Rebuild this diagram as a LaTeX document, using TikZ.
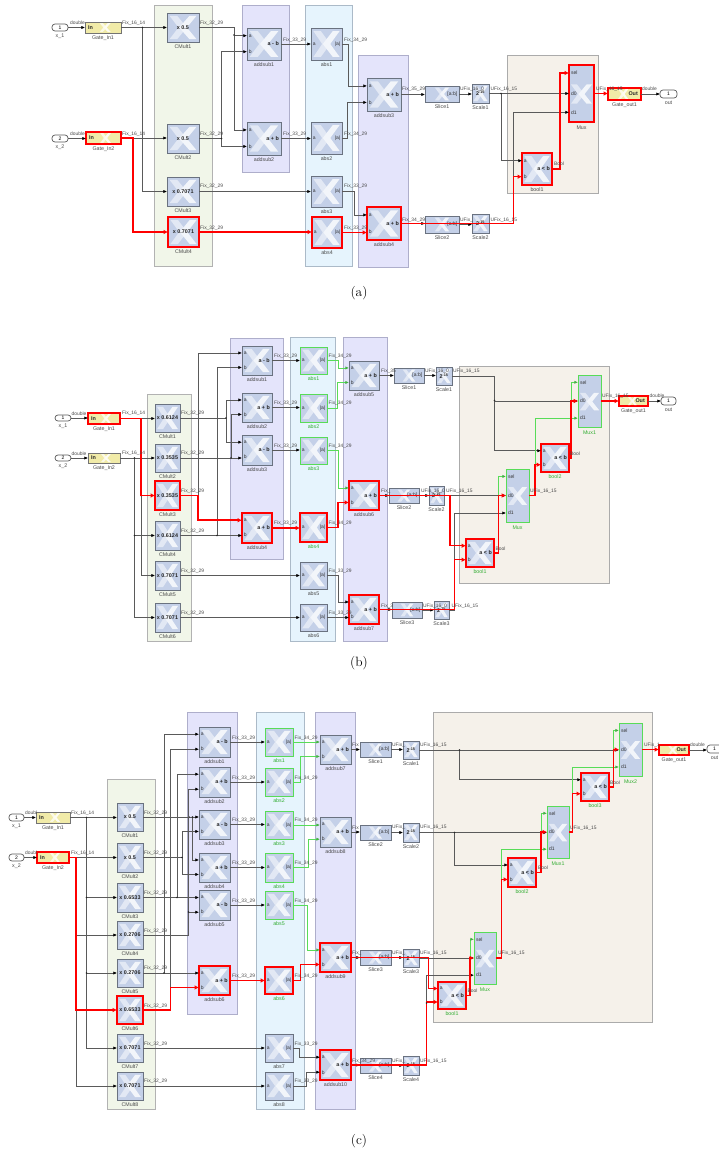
\documentclass[tikz,border=0pt]{standalone}
\usepackage{fontspec}
\usetikzlibrary{arrows.meta}
\newfontfamily\lbf{Liberation Sans}
\definecolor{wg}{HTML}{5A5A5A}
\definecolor{wgreen}{HTML}{58DC58}
\definecolor{bfill}{HTML}{C4D0E8}
\definecolor{bline}{HTML}{6A7280}
\definecolor{lgA}{HTML}{E2E8F4}
\definecolor{lgB}{HTML}{F2F5FA}
\definecolor{yel}{HTML}{F1EBA8}
\definecolor{txt}{HTML}{4A4A4A}
\definecolor{pgf}{HTML}{F1F6E9}
\tikzset{
 panel/.style={line width=1pt,inner sep=0,outer sep=0},
 pgreen/.style={panel,fill=pgf,draw=black!30},
 ppurple/.style={panel,fill={rgb,255:red,228;green,228;blue,251},draw={rgb,255:red,174;green,174;blue,203}},
 pblue/.style={panel,fill={rgb,255:red,230;green,244;blue,253},draw={rgb,255:red,171;green,186;blue,200}},
 pbrown/.style={panel,fill={rgb,255:red,245;green,241;blue,234},draw=black!33},
 nb/.style={draw=bline,fill=bfill,line width=.9pt,inner sep=0,outer sep=0},
 rb/.style={draw=red,fill=bfill,line width=1.6pt,inner sep=0,outer sep=0},
 gb/.style={draw=wgreen,fill=bfill,line width=.9pt,inner sep=0,outer sep=0},
 ny/.style={draw=black!55,fill=yel,line width=.8pt,inner sep=0,outer sep=0},
 ry/.style={draw=red,fill=yel,line width=1.6pt,inner sep=0,outer sep=0},
 lab/.style={font=\lbf\fontsize{5.3}{5.3}\selectfont,text=txt,inner sep=0},
 labg/.style={font=\lbf\fontsize{5.3}{5.3}\selectfont,text=green!60!black!80,inner sep=0},
 op/.style={font=\lbf\bfseries\fontsize{5.4}{5.4}\selectfont,text=black!85,inner sep=0},
 pl/.style={font=\lbf\fontsize{5}{5}\selectfont,text=black!80,inner sep=0,anchor=west},
 wl/.style={font=\lbf\fontsize{4.9}{4.9}\selectfont,text=txt,inner sep=0,anchor=west},
 ptbox/.style={draw=black!65,fill=white,rounded corners=3pt,line width=.7pt,inner sep=0,outer sep=0,font=\lbf\fontsize{5}{5}\selectfont},
 jd/.style={circle,fill=black!85,minimum size=1.9pt,inner sep=0},
 ww/.style={draw=wg,line width=.6pt,-{Latex[length=3.6pt,width=3.2pt,color=black]}},
 wgn/.style={draw=wgreen,line width=.7pt,-{Latex[length=3.6pt,width=3.2pt,color=wgreen!80!black]}},
 wr/.style={draw=red,line width=1.5pt,-{Latex[length=4.4pt,width=4.6pt,color=red]}},
 captxt/.style={font=\fontsize{13.5}{13.5}\selectfont,inner sep=0}
}
\newcounter{auton}
\newcommand\Logo[6]{\begin{scope}[shift={(#1,#2)},x=#3pt,y=-#4pt]
 \fill[#5] (.08,.1)--(.32,.1)--(.62,.5)--(.32,.9)--(.08,.9)--(.36,.5)--cycle;
 \fill[#6] (.92,.1)--(.7,.1)--(.38,.5)--(.7,.9)--(.92,.9)--(.62,.5)--cycle;
\end{scope}}
\newcommand\Base[6]{%
 \pgfmathsetmacro\bw{#4-#2}\pgfmathsetmacro\bh{#5-#3}%
 \pgfmathsetmacro\mx{(#2+#4)/2}\pgfmathsetmacro\my{(#3+#5)/2}%
 \node[#6,minimum width=\bw pt,minimum height=\bh pt] (#1) at (\mx,\my) {};
 \coordinate (#1i) at (#2,\my); \coordinate (#1o) at (#4,\my);
 \coordinate (#1a) at (#2,{#3+.24*\bh}); \coordinate (#1b) at (#2,{#3+.74*\bh});
 \coordinate (#1s) at (#2,{#3+.14*\bh}); \coordinate (#1p) at (#2,\my); \coordinate (#1q) at (#2,{#3+.83*\bh});
}
% id x1 y1 x2 y2 box labstyle text label
\newcommand\Cm[9]{\Base{#1}{#2}{#3}{#4}{#5}{#6}\Logo{#2}{#3}{\bw}{\bh}{lgA}{lgB}
 \node[op] (#1T) at (\mx,\my) {#8}; \node[#7] (#1L) at (\mx,{#5+5}) {#9};}
\newcommand\As[9]{\Base{#1}{#2}{#3}{#4}{#5}{#6}\Logo{#2}{#3}{\bw}{\bh}{lgA}{lgB}
 \node[op,anchor=east] (#1T) at ([xshift=-2pt]#1o) {#8}; \node[#7] (#1L) at (\mx,{#5+5}) {#9};
 \node[pl] (#1A) at ([xshift=1.6pt]#1a) {a}; \node[pl] (#1B) at ([xshift=1.6pt]#1b) {b};}
\newcommand\Ab[9]{\Base{#1}{#2}{#3}{#4}{#5}{#6}\Logo{#2}{#3}{\bw}{\bh}{lgA}{lgB}
 \node[pl,anchor=east] (#1T) at ([xshift=-1.6pt]#1o) {|a|}; \node[#7] (#1L) at (\mx,{#5+5}) {#9};
 \node[pl] (#1A) at ([xshift=1.6pt]#1i) {a};}
\newcommand\Sl[9]{\Base{#1}{#2}{#3}{#4}{#5}{#6}\pgfmathsetmacro\lx{#2+.25*\bw}\pgfmathsetmacro\lw{.5*\bw}\Logo{\lx}{#3}{\lw}{\bh}{lgA}{lgB}
 \node[pl,anchor=east] (#1T) at ([xshift=-1.6pt]#1o) {[a:b]}; \node[#7] (#1L) at (\mx,{#5+5}) {#9};}
\newcommand\Sc[9]{\Base{#1}{#2}{#3}{#4}{#5}{#6}\Logo{#2}{#3}{\bw}{\bh}{lgA}{lgB}
 \node[op] (#1T) at (\mx,\my) {2\textsuperscript{-15}}; \node[#7] (#1L) at (\mx,{#5+5}) {#9};}
\newcommand\Mx[9]{\Base{#1}{#2}{#3}{#4}{#5}{#6}\pgfmathsetmacro\ly{#3+.3*\bh}\pgfmathsetmacro\lh{.42*\bh}\Logo{#2}{\ly}{\bw}{\lh}{lgA}{lgB}
 \node[#7] (#1L) at (\mx,{#5+5.5}) {#9};
 \node[pl] (#1A) at ([xshift=1.8pt]#1s) {sel}; \node[pl] (#1B) at ([xshift=1.8pt]#1p) {d0}; \node[pl] (#1C) at ([xshift=1.8pt]#1q) {d1};}
\newcommand\Gi[9]{\Base{#1}{#2}{#3}{#4}{#5}{#6}\pgfmathsetmacro\lx{#2+.38*\bw}\pgfmathsetmacro\lw{.36*\bw}\Logo{\lx}{#3}{\lw}{\bh}{white!70!yel}{white!85!yel}
 \node[op,anchor=west] (#1T) at ([xshift=3pt]#1i) {#8}; \node[#7] (#1L) at (\mx,{#5+5}) {#9};}
\newcommand\Go[9]{\Base{#1}{#2}{#3}{#4}{#5}{#6}\pgfmathsetmacro\lx{#2+.28*\bw}\pgfmathsetmacro\lw{.36*\bw}\Logo{\lx}{#3}{\lw}{\bh}{white!70!yel}{white!85!yel}
 \node[op,anchor=east] (#1T) at ([xshift=-3pt]#1o) {#8}; \node[#7] (#1L) at (\mx,{#5+5}) {#9};}
% id x1 y1 x2 y2 number label
\newcommand\Pt[7]{%
 \pgfmathsetmacro\bw{#4-#2}\pgfmathsetmacro\bh{#5-#3}\pgfmathsetmacro\mx{(#2+#4)/2}\pgfmathsetmacro\my{(#3+#5)/2}%
 \node[ptbox,minimum width=\bw pt,minimum height=\bh pt] (#1) at (\mx,\my) {#6};
 \coordinate (#1i) at (#2,\my); \coordinate (#1o) at (#4,\my);
 \node[lab] (#1L) at (\mx,{#5+5}) {#7};}
\newcommand\Pn[6]{\pgfmathsetmacro\bw{#4-#2}\pgfmathsetmacro\bh{#5-#3}\pgfmathsetmacro\mx{(#2+#4)/2}\pgfmathsetmacro\my{(#3+#5)/2}%
 \node[#6,minimum width=\bw pt,minimum height=\bh pt] (#1) at (\mx,\my) {};}
\newcommand\hh[3][ww]{\draw[#1] (#2) -- (#2 -| #3);}
\newcommand\hvh[4][ww]{\coordinate (tmpx) at (#3,0); \draw[#1] (#2) -- (#2 -| tmpx) -- (tmpx |- #4) -- (#4);}
\newcommand\Jn[2]{\stepcounter{auton}\node[jd] (j\theauton) at (#1,#2) {};}
\newcommand\Wl[3]{\stepcounter{auton}\node[wl] (w\theauton) at (#1,#2) {#3};}
\begin{document}
\begin{tikzpicture}[x=1pt,y=-1pt]
\useasboundingbox (0,0) rectangle (719,1154);
%%%%%%%%%%%%% (a)
\Pn{aPG}{154}{5}{212}{266}{pgreen}
\Pn{aPP1}{242}{5}{289}{172}{ppurple}
\Pn{aPB}{305}{5}{352}{266}{pblue}
\Pn{aPP2}{358}{55}{408}{267}{ppurple}
\Pn{aPR}{507}{55}{598}{193}{pbrown}
\Pt{aP1}{52}{24}{68}{31}{1}{x\_1}
\Pt{aP2}{52}{135}{68}{142}{2}{x\_2}
\Gi{aGI1}{85}{22}{121}{33}{ny}{lab}{In}{Gate\_In1}
\Gi{aGI2}{86}{132}{121}{144}{ry}{lab}{In}{Gate\_In2}
\Cm{aCM1}{167}{13}{199}{42}{nb}{lab}{x 0.5}{CMult1}
\Cm{aCM2}{167}{124}{199}{153}{nb}{lab}{x 0.5}{CMult2}
\Cm{aCM3}{167}{177}{199}{206}{nb}{lab}{x 0.7071}{CMult3}
\Cm{aCM4}{168}{217}{199}{247}{rb}{lab}{x 0.7071}{CMult4}
\As{aAS1}{247}{28}{281}{60}{nb}{lab}{a - b}{addsub1}
\As{aAS2}{247}{122}{281}{155}{nb}{lab}{a + b}{addsub2}
\Ab{aAB1}{311}{28}{342}{60}{nb}{lab}{}{abs1}
\Ab{aAB2}{311}{122}{342}{154}{nb}{lab}{}{abs2}
\Ab{aAB3}{311}{176}{342}{207}{nb}{lab}{}{abs3}
\Ab{aAB4}{312}{217}{342}{248}{rb}{lab}{}{abs4}
\As{aAS3}{367}{78}{401}{111}{nb}{lab}{a + b}{addsub3}
\As{aAS4}{367}{207}{401}{240}{rb}{lab}{a + b}{addsub4}
\Sl{aSL1}{425}{86}{459}{102}{nb}{lab}{}{Slice1}
\Sc{aSC1}{472}{84}{489}{103}{nb}{lab}{}{Scale1}
\Sl{aSL2}{425}{216}{459}{233}{nb}{lab}{}{Slice2}
\Sc{aSC2}{472}{214}{489}{233}{nb}{lab}{}{Scale2}
\Mx{aMX}{569}{65}{594}{122}{rb}{lab}{}{Mux}
\As{aBL}{522}{153}{552}{185}{rb}{lab}{a < b}{bool1}
\Go{aGO}{608}{88}{641}{100}{ry}{lab}{Out}{Gate\_out1}
\Pt{aPO}{660}{90}{677}{98}{1}{out}
% black
\hh{aP1o}{aGI1i}\hh{aP2o}{aGI2i}
\hh{aGI1o}{aCM1i}\hvh{aGI1o}{142.5}{aCM3i}\Jn{142.5}{27.5}
\hh{aGI2o}{aCM2i}
\hvh{aCM1o}{234}{aAS1a}\hvh{aCM1o}{234}{aAS2a}\Jn{234}{35}
\hvh{aCM2o}{221.5}{aAS1b}\hvh{aCM2o}{221.5}{aAS2b}\Jn{221.5}{138.5}
\hh{aAS1o}{aAB1i}\hh{aAS2o}{aAB2i}\hh{aCM3o}{aAB3i}
\hvh{aAB1o}{348}{aAS3a}\hvh{aAB2o}{347}{aAS3b}\hvh{aAB3o}{354}{aAS4a}
\hh{aAS3o}{aSL1i}\hh{aSL1o}{aSC1i}\hh{aSC1o}{aMXp}\hvh{aSC1o}{501}{aBLa}\Jn{501}{93.5}
\hh{aAS4o}{aSL2i}\hh{aSL2o}{aSC2i}\hvh{aSC2o}{513.5}{aMXq}
\hh{aGOo}{aPOi}
% red
\hvh[wr]{aGI2o}{133}{aCM4i}\hh[wr]{aCM4o}{aAB4i}\hh[wr]{aAB4o}{aAS4b}
\hvh[wr]{aAS4o}{513.5}{aBLb}\hvh[wr]{aBLo}{560}{aMXs}\hh[wr]{aMXo}{aGOi}
% labels
\Wl{70}{23}{double}\Wl{70}{134}{double}\Wl{122}{23}{Fix\_16\_14}\Wl{122}{134}{Fix\_16\_14}
\Wl{200}{23}{Fix\_32\_29}\Wl{200}{134}{Fix\_32\_29}\Wl{200}{186}{Fix\_32\_29}\Wl{200}{228}{Fix\_32\_29}
\Wl{283}{40}{Fix\_33\_29}\Wl{283}{134}{Fix\_33\_29}
\Wl{344}{40}{Fix\_34\_29}\Wl{344}{134}{Fix\_34\_29}\Wl{344}{186}{Fix\_33\_29}\Wl{344}{228}{Fix\_33\_29}
\Wl{402}{89}{Fix\_35\_29}\Wl{460}{89}{UFix\_16\_0}\Wl{490.5}{89.5}{UFix\_16\_15}
\Wl{402}{220}{Fix\_34\_29}\Wl{460}{220}{UFix\_}\Wl{490.5}{220}{UFix\_16\_15}
\Wl{554}{164}{Bool}\Wl{596}{89}{UFix\_16\_15}\Wl{642}{89}{double}
\node[captxt] (capA) at (359,293) {(a)};
%%%%%%%%%%%%% (b)
\Pn{bPG}{147}{394}{191}{641}{pgreen}
\Pn{bPP1}{230}{338}{283}{559}{ppurple}
\Pn{bPB}{290}{337}{335}{641}{pblue}
\Pn{bPP2}{343}{337}{387}{641}{ppurple}
\Pn{bPR}{459}{366}{609}{583}{pbrown}
\Pt{bP1}{55}{415}{71}{421}{1}{x\_1}
\Pt{bP2}{55}{455}{71}{461}{2}{x\_2}
\Gi{bGI1}{88}{413}{120}{424}{ry}{lab}{In}{Gate\_In1}
\Gi{bGI2}{88}{453}{120}{463}{ny}{lab}{In}{Gate\_In2}
\Cm{bCM1}{155}{404}{180}{432}{nb}{lab}{x 0.6124}{CMult1}
\Cm{bCM2}{155}{444}{180}{472}{nb}{lab}{x 0.3535}{CMult2}
\Cm{bCM3}{155}{481}{180}{510}{rb}{lab}{x 0.3535}{CMult3}
\Cm{bCM4}{155}{521}{180}{550}{nb}{lab}{x 0.6124}{CMult4}
\Cm{bCM5}{155}{561}{180}{590}{nb}{lab}{x 0.7071}{CMult5}
\Cm{bCM6}{155}{603}{180}{632}{nb}{lab}{x 0.7071}{CMult6}
\As{bAS1}{242}{346}{272}{375}{nb}{lab}{a - b}{addsub1}
\As{bAS2}{242}{393}{272}{422}{nb}{lab}{a + b}{addsub2}
\As{bAS3}{242}{435}{272}{465}{nb}{lab}{a - b}{addsub3}
\As{bAS4}{242}{513}{272}{543}{rb}{lab}{a + b}{addsub4}
\Ab{bAB1}{300}{347}{327}{374}{gb}{labg}{}{abs1}
\Ab{bAB2}{300}{394}{327}{422}{gb}{labg}{}{abs2}
\Ab{bAB3}{300}{437}{327}{464}{gb}{labg}{}{abs3}
\Ab{bAB4}{300}{513}{327}{542}{rb}{labg}{}{abs4}
\Ab{bAB5}{300}{562}{327}{589}{nb}{lab}{}{abs5}
\Ab{bAB6}{300}{604}{327}{631}{nb}{lab}{}{abs6}
\As{bAS5}{349}{361}{379}{390}{nb}{lab}{a + b}{addsub5}
\As{bAS6}{349}{481}{379}{510}{rb}{lab}{a + b}{addsub6}
\As{bAS7}{349}{595}{379}{624}{rb}{lab}{a + b}{addsub7}
\Sl{bSL1}{394}{368}{424}{383}{nb}{lab}{}{Slice1}
\Sc{bSC1}{436}{367}{452}{385}{nb}{lab}{}{Scale1}
\Sl{bSL2}{389}{488}{419}{503}{nb}{lab}{}{Slice2}
\Sc{bSC2}{429}{486}{444}{505}{nb}{lab}{}{Scale2}
\Sl{bSL3}{392}{602}{422}{618}{nb}{lab}{}{Slice3}
\Sc{bSC3}{434}{601}{449}{619}{nb}{lab}{}{Scale3}
\Mx{bMX1}{578}{375}{601}{427}{gb}{labg}{}{Mux1}
\Mx{bMX}{506}{469}{529}{522}{gb}{labg}{}{Mux}
\As{bBL2}{541}{444}{569}{472}{rb}{labg}{a < b}{bool2}
\As{bBL1}{466}{539}{494}{567}{rb}{labg}{a < b}{bool1}
\Go{bGO}{619}{396}{648}{406}{ry}{lab}{Out}{Gate\_out1}
\Pt{bPO}{661}{397}{676}{405}{1}{out}
% black
\hh{bP1o}{bGI1i}\hh{bP2o}{bGI2i}
\hh{bGI1o}{bCM1i}\hvh{bGI1o}{141}{bCM5i}
\hh{bGI2o}{bCM2i}\hvh{bGI2o}{134.5}{bCM4i}\hvh{bGI2o}{134.5}{bCM6i}
\Jn{134.5}{458}\Jn{134.5}{535.5}\Jn{141}{495.5}
\hvh{bCM1o}{226}{bAS2a}\hvh{bCM1o}{226}{bAS3a}\Jn{226}{418}
\hh{bCM2o}{bAS3b}\hvh{bCM2o}{231}{bAS2b}\Jn{231}{458}
\hvh{bCM3o}{198}{bAS1a}
\hh{bCM4o}{bAS4b}\hvh{bCM4o}{217}{bAS1b}\Jn{217}{535.5}
\hh{bCM5o}{bAB5i}\hh{bCM6o}{bAB6i}
\hh{bAS1o}{bAB1i}\hh{bAS2o}{bAB2i}\hh{bAS3o}{bAB3i}
\hvh{bAB5o}{338}{bAS7a}\hh{bAB6o}{bAS7b}
\hh{bAS5o}{bSL1i}\hh{bSL1o}{bSC1i}\hvh{bSC1o}{494.5}{bBL2a}\hvh{bSC1o}{494.5}{bMX1p}\Jn{494.5}{400.5}
\hh{bAS6o}{bSL2i}\hh{bSL2o}{bSC2i}\hh{bSC2o}{bMXp}
\hh{bAS7o}{bSL3i}\hh{bSL3o}{bSC3i}\hvh{bSC3o}{454.5}{bMXq}
\hh{bGOo}{bPOi}
% green
\hvh[wgn]{bAB1o}{338}{bAS5a}\hvh[wgn]{bAB2o}{337}{bAS5b}\hvh[wgn]{bAB3o}{338}{bAS6a}
\hvh[wgn]{bBL1o}{498.7}{bMXs}\hvh[wgn]{bMXo}{535}{bMX1q}\hvh[wgn]{bBL2o}{571}{bMX1s}
% red
\hvh[wr]{bGI1o}{141}{bCM3i}\hvh[wr]{bCM3o}{198}{bAS4a}\hh[wr]{bAS4o}{bAB4i}
\hvh[wr]{bAB4o}{338}{bAS6b}\hvh[wr]{bAS6o}{450}{bBL1a}\hvh[wr]{bAS7o}{454.5}{bBL1b}
\hvh[wr]{bBL1o}{498.7}{bMXp}\hvh[wr]{bMXo}{535}{bBL2b}\hvh[wr]{bBL2o}{571}{bMX1p}\hh[wr]{bMX1o}{bGOi}
% labels
\Wl{71.5}{413.5}{double}\Wl{71.5}{453.5}{double}\Wl{122}{413.5}{Fix\_16\_14}\Wl{122}{453.5}{Fix\_16\_14}
\Wl{181}{413.5}{Fix\_32\_29}\Wl{181}{453.5}{Fix\_32\_29}\Wl{181}{491}{Fix\_32\_29}\Wl{181}{531}{Fix\_32\_29}\Wl{181}{571}{Fix\_32\_29}\Wl{181}{613}{Fix\_32\_29}
\Wl{274}{356}{Fix\_33\_29}\Wl{274}{403}{Fix\_33\_29}\Wl{274}{446}{Fix\_33\_29}\Wl{274}{523.5}{Fix\_33\_29}
\Wl{328.5}{356}{Fix\_34\_29}\Wl{328.5}{403.5}{Fix\_34\_29}\Wl{328.5}{446}{Fix\_34\_29}\Wl{328.5}{523.5}{Fix\_34\_29}\Wl{328.5}{571}{Fix\_33\_29}\Wl{328.5}{613}{Fix\_33\_29}
\Wl{381}{371.5}{Fix\_35}\Wl{425}{371.5}{UFix\_16\_0}\Wl{453}{371.5}{UFix\_16\_15}
\Wl{381}{491}{Fix\_}\Wl{421}{491}{UFix\_16\_0}\Wl{446}{491}{UFix\_16\_15}
\Wl{381}{606}{Fix\_3}\Wl{423}{606}{UFix\_16\_0}\Wl{451.5}{606}{UFix\_16\_15}
\Wl{495.5}{549}{Bool}\Wl{530}{491}{UFix\_16\_15}\Wl{570}{453.5}{Bool}\Wl{602}{396}{UFix\_16\_15}\Wl{649.5}{396}{double}
\node[captxt] (capB) at (359,663) {(b)};
%%%%%%%%%%%%% (c)
\Pn{cPG}{107}{779}{155}{1109}{pgreen}
\Pn{cPP1}{187}{712}{237}{1014}{ppurple}
\Pn{cPB}{256}{712}{304}{1109}{pblue}
\Pn{cPP2}{315}{712}{355}{1109}{ppurple}
\Pn{cPR}{433}{712}{652}{1022}{pbrown}
\Pt{cP1}{9}{814}{24}{821}{1}{x\_1}
\Pt{cP2}{9}{854}{24}{861}{2}{x\_2}
\Gi{cGI1}{36}{812}{70}{823}{ny}{lab}{In}{Gate\_In1}
\Gi{cGI2}{37}{852}{69}{863}{ry}{lab}{In}{Gate\_In2}
\Cm{cCM1}{117}{803}{143}{831}{nb}{lab}{x 0.5}{CMult1}
\Cm{cCM2}{117}{843}{143}{872}{nb}{lab}{x 0.5}{CMult2}
\Cm{cCM3}{117}{883}{143}{912}{nb}{lab}{x 0.6533}{CMult3}
\Cm{cCM4}{117}{921}{143}{949}{nb}{lab}{x 0.2706}{CMult4}
\Cm{cCM5}{117}{959}{143}{987}{nb}{lab}{x 0.2706}{CMult5}
\Cm{cCM6}{117}{996}{143}{1024}{rb}{lab}{x 0.6533}{CMult6}
\Cm{cCM7}{117}{1034}{143}{1062}{nb}{lab}{x 0.7071}{CMult7}
\Cm{cCM8}{117}{1072}{143}{1100}{nb}{lab}{x 0.7071}{CMult8}
\As{cAS1}{199}{727}{230}{757}{nb}{lab}{a - b}{addsub1}
\As{cAS2}{199}{767}{230}{797}{nb}{lab}{a + b}{addsub2}
\As{cAS3}{199}{810}{230}{839}{nb}{lab}{a - b}{addsub3}
\As{cAS4}{199}{853}{230}{882}{nb}{lab}{a + b}{addsub4}
\As{cAS5}{199}{890}{230}{920}{nb}{lab}{a - b}{addsub5}
\As{cAS6}{199}{966}{230}{995}{rb}{lab}{a + b}{addsub6}
\Ab{cAB1}{265}{728}{293}{756}{gb}{labg}{}{abs1}
\Ab{cAB2}{265}{768}{293}{796}{gb}{labg}{}{abs2}
\Ab{cAB3}{265}{811}{293}{839}{gb}{labg}{}{abs3}
\Ab{cAB4}{265}{853}{293}{882}{gb}{labg}{}{abs4}
\Ab{cAB5}{265}{891}{293}{919}{gb}{labg}{}{abs5}
\Ab{cAB6}{265}{967}{293}{994}{rb}{labg}{}{abs6}
\Ab{cAB7}{265}{1034}{293}{1062}{nb}{lab}{}{abs7}
\Ab{cAB8}{265}{1072}{293}{1100}{nb}{lab}{}{abs8}
\As{cAS7}{320}{735}{351}{764}{nb}{lab}{a + b}{addsub7}
\As{cAS8}{320}{817}{351}{847}{nb}{lab}{a + b}{addsub8}
\As{cAS9}{320}{943}{351}{972}{rb}{lab}{a + b}{addsub9}
\As{cAS10}{320}{1050}{351}{1080}{rb}{lab}{a + b}{addsub10}
\Sl{cSL1}{360}{742}{391}{757}{nb}{lab}{}{Slice1}
\Sc{cSC1}{403}{741}{419}{759}{nb}{lab}{}{Scale1}
\Sl{cSL2}{360}{825}{391}{840}{nb}{lab}{}{Slice2}
\Sc{cSC2}{403}{823}{419}{842}{nb}{lab}{}{Scale2}
\Sl{cSL3}{360}{950}{391}{965}{nb}{lab}{}{Slice3}
\Sc{cSC3}{403}{949}{419}{967}{nb}{lab}{}{Scale3}
\Sl{cSL4}{360}{1058}{391}{1073}{nb}{lab}{}{Slice4}
\Sc{cSC4}{403}{1056}{419}{1075}{nb}{lab}{}{Scale4}
\Mx{cMX2}{619}{723}{642}{776}{gb}{labg}{}{Mux2}
\As{cBL3}{581}{773}{609}{801}{rb}{labg}{a < b}{bool3}
\Mx{cMX1}{547}{806}{569}{858}{gb}{labg}{}{Mux1}
\As{cBL2}{508}{858}{536}{887}{rb}{labg}{a < b}{bool2}
\Mx{cMX}{474}{932}{496}{984}{gb}{labg}{}{Mux}
\As{cBL1}{438}{982}{466}{1009}{rb}{labg}{a < b}{bool1}
\Go{cGO}{659}{745}{689}{755}{ry}{lab}{Out}{Gate\_out1}
\Pt{cPO}{707}{745}{722}{753}{1}{out}
% black
\hh{cP1o}{cGI1i}\hh{cP2o}{cGI2i}
\hh{cGI1o}{cCM1i}\hvh{cGI1o}{86.5}{cCM3i}\hvh{cGI1o}{86.5}{cCM5i}\hvh{cGI1o}{86.5}{cCM7i}
\Jn{86.5}{817.5}\Jn{86.5}{897.5}\Jn{86.5}{973}
\hh{cGI2o}{cCM2i}\hvh{cGI2o}{76}{cCM4i}\hvh{cGI2o}{76}{cCM8i}\Jn{76}{935}\Jn{76}{1010}
\hh{cCM1o}{cAS3a}\hvh{cCM1o}{192.5}{cAS4a}\Jn{192.5}{817}\Jn{189}{817}
\hvh{cCM2o}{182}{cAS3b}\hvh{cCM2o}{182}{cAS4b}\Jn{182}{857.5}
\hh{cCM3o}{cAS5a}\hvh{cCM3o}{177}{cAS2a}\Jn{177}{897.5}
\hvh{cCM4o}{188.5}{cAS2b}\hvh{cCM4o}{188.5}{cAS5b}\Jn{188.5}{912}
\hh{cCM5o}{cAS6a}\hvh{cCM5o}{164}{cAS1a}\Jn{164}{973}
\hvh{cCM6o}{170.5}{cAS1b}
\hh{cCM7o}{cAB7i}\hh{cCM8o}{cAB8i}
\hh{cAS1o}{cAB1i}\hh{cAS2o}{cAB2i}\hh{cAS3o}{cAB3i}\hh{cAS4o}{cAB4i}\hh{cAS5o}{cAB5i}
\hvh{cAB7o}{299}{cAS10a}\hvh{cAB8o}{306}{cAS10b}
\hh{cAS7o}{cSL1i}\hh{cSL1o}{cSC1i}\hh{cSC1o}{cMX2p}\hvh{cSC1o}{459.5}{cBL3a}\Jn{459.5}{750}
\hh{cAS8o}{cSL2i}\hh{cSL2o}{cSC2i}\hh{cSC2o}{cMX1p}\hvh{cSC2o}{454.5}{cBL2a}\Jn{454.5}{832.5}
\hh{cAS9o}{cSL3i}\hh{cSL3o}{cSC3i}\hh{cSC3o}{cMXp}
\hh{cAS10o}{cSL4i}\hh{cSL4o}{cSC4i}\hvh{cSC4o}{426.5}{cMXq}
\hh{cGOo}{cPOi}
% green
\hh[wgn]{cAB1o}{cAS7a}\hvh[wgn]{cAB2o}{300.5}{cAS7b}\hh[wgn]{cAB3o}{cAS8a}\hvh[wgn]{cAB4o}{308}{cAS8b}\hvh[wgn]{cAB5o}{307.5}{cAS9a}
\hvh[wgn]{cBL1o}{470}{cMXs}\hvh[wgn]{cMXo}{501.5}{cMX1q}\hvh[wgn]{cBL2o}{541}{cMX1s}\hvh[wgn]{cMX1o}{572.5}{cMX2q}\hvh[wgn]{cBL3o}{613.5}{cMX2s}
% red
\hvh[wr]{cGI2o}{76}{cCM6i}\hvh[wr]{cCM6o}{170.5}{cAS6b}\hh[wr]{cAS6o}{cAB6i}\hvh[wr]{cAB6o}{300.5}{cAS9b}
\hvh[wr]{cAS9o}{428.5}{cBL1a}\hvh[wr]{cAS10o}{426.5}{cBL1b}\Jn{426.5}{1003}
\hvh[wr]{cBL1o}{470}{cMXp}\hvh[wr]{cMXo}{501.5}{cBL2b}\hvh[wr]{cBL2o}{541}{cMX1p}\hvh[wr]{cMX1o}{572.5}{cBL3b}\hvh[wr]{cBL3o}{613.5}{cMX2p}\hh[wr]{cMX2o}{cGOi}
% labels
\Wl{25}{813}{doubl}\Wl{25}{853}{doubl}\Wl{71}{813}{Fix\_16\_14}\Wl{71}{853}{Fix\_16\_14}
\Wl{144}{813}{Fix\_32\_29}\Wl{144}{853}{Fix\_32\_29}\Wl{144}{893.5}{Fix\_32\_29}\Wl{144}{931}{Fix\_32\_29}\Wl{144}{968}{Fix\_32\_29}\Wl{144}{1006}{Fix\_32\_29}\Wl{144}{1044}{Fix\_32\_29}\Wl{144}{1081}{Fix\_32\_29}
\Wl{232}{738}{Fix\_33\_29}\Wl{232}{778}{Fix\_33\_29}\Wl{232}{820}{Fix\_33\_29}\Wl{232}{863}{Fix\_33\_29}\Wl{232}{901}{Fix\_33\_29}\Wl{232}{976}{Fix\_33\_29}
\Wl{294.5}{738}{Fix\_34\_29}\Wl{294.5}{778}{Fix\_34\_29}\Wl{294.5}{820}{Fix\_34\_29}\Wl{294.5}{863}{Fix\_34\_29}\Wl{294.5}{901}{Fix\_34\_29}\Wl{294.5}{976}{Fix\_34\_29}\Wl{294.5}{1044}{Fix\_33\_29}\Wl{294.5}{1081.5}{Fix\_33\_29}
\Wl{352}{745}{Fix}\Wl{392}{745}{UFix\_}\Wl{420}{745}{UFix\_16\_15}
\Wl{352}{827.5}{Fix}\Wl{392}{827.5}{UFix\_}\Wl{420}{827.5}{UFix\_16\_15}
\Wl{352}{953}{Fix\_}\Wl{392}{953}{UFix\_}\Wl{420}{953}{UFix\_16\_15}
\Wl{352}{1061}{Fix\_34\_29}\Wl{392}{1061}{UFix\_}\Wl{420}{1061}{UFix\_16\_15}
\Wl{467.5}{991}{Bool}\Wl{538}{868}{Bool}\Wl{610}{782.5}{Bool}
\Wl{498}{953}{UFix\_16\_15}\Wl{570}{828}{UFix\_16\_15}\Wl{644}{745}{UFix\_1}\Wl{690}{745}{double}
\node[captxt] (capC) at (359,1141) {(c)};
\end{tikzpicture}
\end{document}
